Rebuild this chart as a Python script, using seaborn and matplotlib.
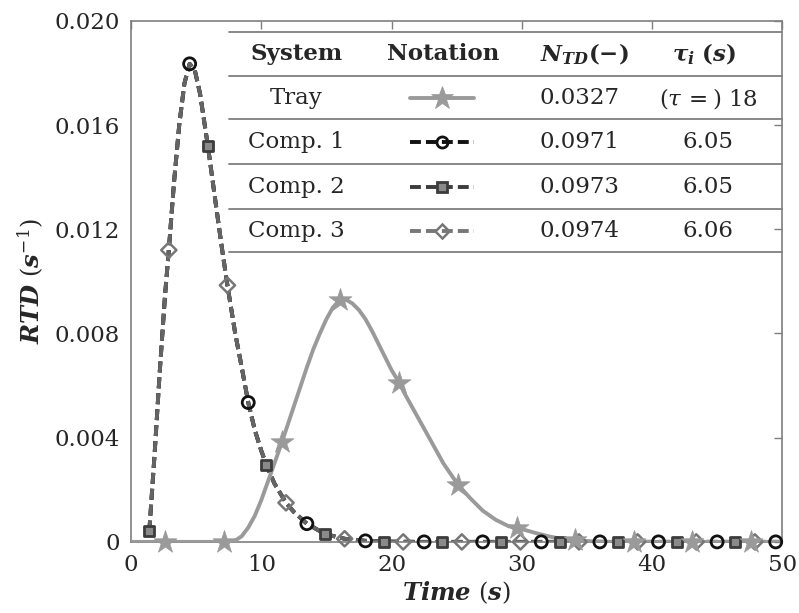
import matplotlib
matplotlib.use("Agg")
import matplotlib.pyplot as plt
import seaborn as sns
import pandas as pd

# ---- data (RTD in 1e-3 s^-1) ----
comp_t = [1.4, 1.8, 2.2, 2.6, 2.9, 3.3, 3.7, 4.1, 4.5, 4.9, 5.3, 5.9, 6.5, 7.0,
          7.4, 8.0, 8.5, 9.0, 9.5, 10.0, 10.4, 11.0, 11.9, 12.5, 13.5, 14.9,
          16.4, 18.0, 19.4, 22.0, 50.0]
comp_rtd = [0.4, 3.3, 6.5, 9.4, 11.2, 13.8, 16.0, 17.6, 18.35, 18.1, 17.2, 15.2,
            13.0, 11.2, 9.85, 8.0, 6.7, 5.35, 4.3, 3.5, 2.95, 2.25, 1.5, 1.15,
            0.7, 0.3, 0.12, 0.04, 0.01, 0.0, 0.0]

tray_t = [0.0, 7.5, 8.0, 8.5, 9.0, 9.5, 10.0, 10.5, 11.0, 11.6, 12.0, 12.5, 13.0,
          13.5, 14.0, 14.5, 15.0, 15.5, 16.05, 16.5, 17.0, 17.5, 18.0, 18.5,
          19.0, 19.5, 20.0, 20.6, 21.0, 22.0, 23.0, 24.0, 25.1, 26.0, 27.0,
          28.0, 29.0, 29.6, 31.0, 32.0, 33.0, 34.1, 35.0, 36.0, 37.0, 50.0]
tray_rtd = [0.0, 0.0, 0.05, 0.22, 0.55, 1.0, 1.6, 2.3, 3.0, 3.85, 4.45, 5.2, 5.95,
            6.7, 7.4, 8.0, 8.55, 9.0, 9.3, 9.3, 9.15, 8.9, 8.55, 8.1, 7.6,
            7.1, 6.6, 6.1, 5.7, 4.8, 3.9, 3.0, 2.2, 1.7, 1.2, 0.85, 0.6, 0.55,
            0.35, 0.22, 0.12, 0.06, 0.03, 0.01, 0.0, 0.0]

# marker positions
c1_t = [4.5, 9.0, 13.5, 18.0, 22.5, 27.0, 31.5, 36.0, 40.5, 45.0, 49.5]
c1_v = [18.35, 5.35, 0.7, 0.04, 0, 0, 0, 0, 0, 0, 0]
c2_t = [1.4, 5.9, 10.4, 14.9, 19.4, 23.9, 28.4, 32.9, 37.4, 41.9, 46.4]
c2_v = [0.4, 15.2, 2.95, 0.3, 0.01, 0, 0, 0, 0, 0, 0]
c3_t = [2.9, 7.4, 11.9, 16.4, 20.9, 25.4, 29.9, 34.4, 38.9, 43.4, 47.9]
c3_v = [11.2, 9.85, 1.5, 0.12, 0, 0, 0, 0, 0, 0, 0]
tr_t = [2.6, 7.1, 11.6, 16.05, 20.6, 25.1, 29.6, 34.1, 38.6, 43.1, 47.6]
tr_v = [0, 0, 3.85, 9.3, 6.1, 2.2, 0.55, 0.06, 0, 0, 0]

systems = ["Tray", "Comp. 1", "Comp. 2", "Comp. 3"]
n_td = ["0.0327", "0.0971", "0.0973", "0.0974"]
tau_i = [r"$(\tau\,=)$ 18", "6.05", "6.05", "6.06"]

x_ticks = [0, 10, 20, 30, 40, 50]
y_ticks = [0, 0.004, 0.008, 0.012, 0.016, 0.020]
y_labels = ["0", "0.004", "0.008", "0.012", "0.016", "0.020"]

sns.set_theme(style="white")
plt.rcParams["font.family"] = ["DejaVu Serif"]
plt.rcParams["mathtext.fontset"] = "custom"
plt.rcParams["mathtext.rm"] = "DejaVu Serif"
plt.rcParams["mathtext.it"] = "DejaVu Serif:italic"
plt.rcParams["mathtext.bf"] = "DejaVu Serif:bold"
plt.rcParams["mathtext.bfit"] = "DejaVu Serif:bold:italic"

fig = plt.figure(figsize=(7.99, 6.13), dpi=100)
ax = fig.add_axes([0.164, 0.116, 0.815, 0.850])

col_tray = "#9a9a9a"
col_c1 = "#111111"
col_c2 = "#3c3c3c"
col_c3 = "#646464"
dash = (0, (2.8, 1.3))

comp = pd.DataFrame({"t": comp_t, "rtd": [v / 1000 for v in comp_rtd]})
tray = pd.DataFrame({"t": tray_t, "rtd": [v / 1000 for v in tray_rtd]})

for c in [col_c1, col_c2, col_c3]:
    sns.lineplot(data=comp, x="t", y="rtd", ax=ax, color=c, lw=2.8,
                 linestyle=dash, zorder=2)

sns.scatterplot(x=c1_t, y=[v / 1000 for v in c1_v], ax=ax, marker="o", s=75,
                facecolor="none", edgecolor=col_c1, linewidth=2.0, zorder=4,
                clip_on=False)
sns.scatterplot(x=c2_t, y=[v / 1000 for v in c2_v], ax=ax, marker="s", s=60,
                facecolor="#8a8a8a", edgecolor=col_c2, linewidth=2.0, zorder=4,
                clip_on=False)
sns.scatterplot(x=c3_t, y=[v / 1000 for v in c3_v], ax=ax, marker="D", s=60,
                facecolor="none", edgecolor="#777777", linewidth=1.8, zorder=4,
                clip_on=False)

sns.lineplot(data=tray, x="t", y="rtd", ax=ax, color=col_tray, lw=2.8, zorder=3)
sns.scatterplot(x=tr_t, y=[v / 1000 for v in tr_v], ax=ax, marker="*", s=300,
                color=col_tray, edgecolor=col_tray, linewidth=0.5, zorder=5,
                clip_on=False)

ax.set_xlim(0, 50)
ax.set_ylim(0, 0.020)
ax.set_xticks(x_ticks)
ax.set_xticklabels([str(v) for v in x_ticks])
ax.set_yticks(y_ticks)
ax.set_yticklabels(y_labels)
ax.tick_params(direction="in", length=6, width=1, color="#7f7f7f",
               top=True, right=True, labelsize=16.5)
ax.tick_params(axis="x", pad=9)
ax.tick_params(axis="y", pad=8)
for sp in ax.spines.values():
    sp.set_color("#7f7f7f")
    sp.set_linewidth(1.2)

ax.set_xlabel(r"$\mathbfit{Time}\ (\mathbfit{s})$", fontsize=17.5, labelpad=2)
ax.set_ylabel(r"$\mathbfit{RTD}\ (\mathbfit{s}^{-1})$", fontsize=17.5, labelpad=6)

# ---- table-style legend ----
tr = ax.transAxes
line_y = [0.9795, 0.8944, 0.8113, 0.7255, 0.6392, 0.5566]
for yy in line_y:
    ax.plot([0.151, 1.0], [yy, yy], transform=tr, color="#7f7f7f", lw=1.3,
            clip_on=False, zorder=6)

row_y = [0.936, 0.851, 0.768, 0.682, 0.597]
fs = 16.5
ax.text(0.2535, row_y[0], "System", transform=tr, ha="center", va="center",
        fontsize=fs, fontweight="bold")
ax.text(0.480, row_y[0], "Notation", transform=tr, ha="center", va="center",
        fontsize=fs, fontweight="bold")
ax.text(0.628, row_y[0], r"$\mathbfit{N}_{\mathbfit{TD}}\mathbf{(-)}$",
        transform=tr, ha="left", va="center", fontsize=fs)
ax.text(0.880, row_y[0], r"$\mathbfit{\tau}_{\mathbfit{i}}\ \mathbf{(}\mathbfit{s}\mathbf{)}$",
        transform=tr, ha="center", va="center", fontsize=fs)

styles = [
    dict(color=col_tray, ls="-", marker="*", ms=17, mfc=col_tray, mec=col_tray, mew=0.5),
    dict(color=col_c1, ls=dash, marker="o", ms=8, mfc="none", mec=col_c1, mew=2),
    dict(color=col_c2, ls=dash, marker="s", ms=7, mfc="#8a8a8a", mec=col_c2, mew=2),
    dict(color="#777777", ls=dash, marker="D", ms=7, mfc="none", mec="#777777", mew=1.8),
]
for i, name in enumerate(systems):
    yy = row_y[i + 1]
    ax.text(0.2535, yy, name, transform=tr, ha="center", va="center", fontsize=fs)
    ax.text(0.628, yy, n_td[i], transform=tr, ha="left", va="center", fontsize=fs)
    ax.text(0.886, yy, tau_i[i], transform=tr, ha="center", va="center", fontsize=fs)
    st = styles[i]
    ax.plot([0.429, 0.527], [yy, yy], transform=tr, color=st["color"],
            ls=st["ls"], lw=2.8, zorder=6)
    ax.plot([0.478], [yy], transform=tr, ls="none", marker=st["marker"],
            ms=st["ms"], mfc=st["mfc"], mec=st["mec"], mew=st["mew"], zorder=7)

plt.savefig("out.png", dpi=100)
